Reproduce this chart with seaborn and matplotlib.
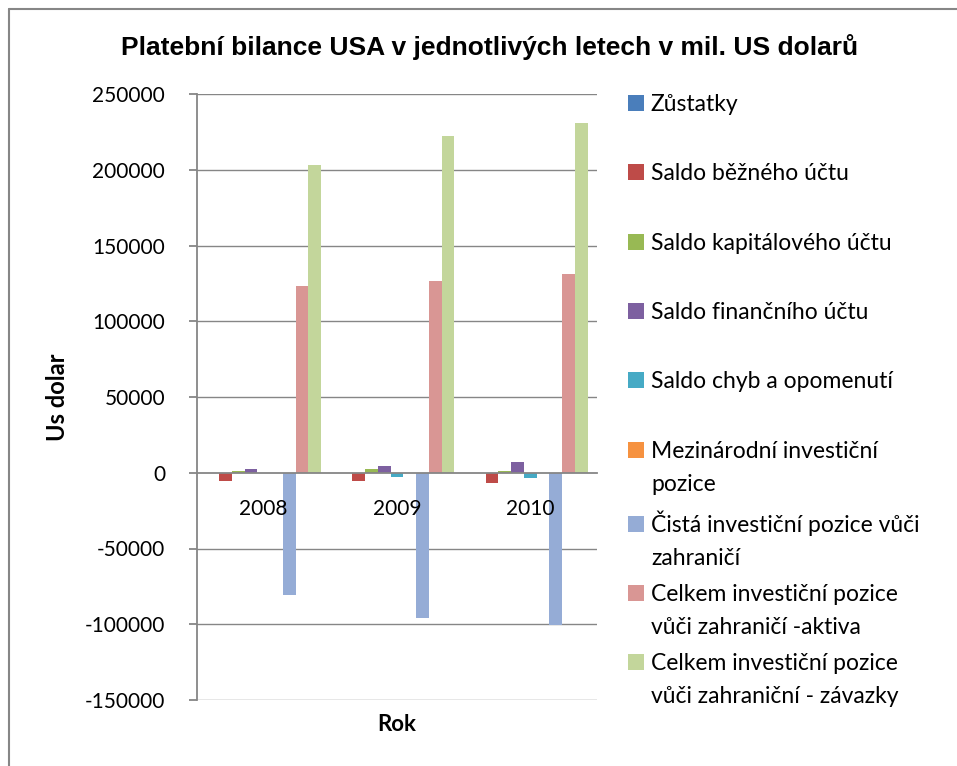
import numpy as np
import pandas as pd
import matplotlib
matplotlib.use('Agg')
import matplotlib.pyplot as plt
from matplotlib.lines import Line2D
import seaborn as sns

# data (mil. US dolaru)
years = ['2008', '2009', '2010']
series = ['Zůstatky', 'Saldo běžného účtu', 'Saldo kapitálového účtu',
          'Saldo finančního účtu', 'Saldo chyb a opomenutí',
          'Mezinárodní investiční\npozice',
          'Čistá investiční pozice vůči\nzahraničí',
          'Celkem investiční pozice\nvůči zahraničí -aktiva',
          'Celkem investiční pozice\nvůči zahraniční - závazky']
zustatky = [0, 0, 0]
saldo_bezneho = [-5300, -5300, -6600]
saldo_kapitaloveho = [1300, 2600, 1300]
saldo_financniho = [2600, 4600, 7300]
saldo_chyb = [0, -2600, -3300]
mezinarodni_pozice = [0, 0, 0]
cista_pozice = [-80500, -96000, -100700]
aktiva = [123000, 126300, 131000]
zavazky = [203000, 222400, 231000]

colors = ['#4a7ebb', '#be4b48', '#98b954', '#7d60a0', '#46aac5',
          '#f69240', '#95acd6', '#d99694', '#c3d69b']

values = [zustatky, saldo_bezneho, saldo_kapitaloveho, saldo_financniho,
          saldo_chyb, mezinarodni_pozice, cista_pozice, aktiva, zavazky]
rows = []
for name, vals in zip(series, values):
    for yr, v in zip(years, vals):
        rows.append({'Rok': yr, 'serie': name, 'hodnota': v})
df = pd.DataFrame(rows)

sns.set_style('white')
plt.rcParams['font.family'] = ['Lato', 'DejaVu Sans']
plt.rcParams['axes.unicode_minus'] = False
plt.rcParams['text.color'] = 'black'
plt.rcParams['xtick.color'] = 'black'
plt.rcParams['ytick.color'] = 'black'
plt.rcParams['axes.labelcolor'] = 'black'

fig = plt.figure(figsize=(9.57, 7.66), dpi=100)
ax = fig.add_axes([197 / 957, 1 - 700 / 766, 400 / 957, 606 / 766])

sns.barplot(data=df, x='Rok', y='hodnota', hue='serie', hue_order=series,
            order=years, palette=colors, saturation=1, width=0.86,
            linewidth=0, ax=ax)

handles, labels = ax.get_legend_handles_labels()
ax.get_legend().remove()

ax.set_ylim(-150000, 250000)
ax.set_yticks(np.arange(-150000, 250001, 50000))
ax.grid(False)
# gridlines behind the bars, axis + year labels drawn over them
for t in ax.get_yticks():
    if t != 0:
        ax.axhline(t, color='#868686', linewidth=1, zorder=0)
ax.set_axisbelow(False)

for s in ['top', 'right']:
    ax.spines[s].set_visible(False)
ax.spines['left'].set_color('#868686')
ax.spines['left'].set_linewidth(1.3)
ax.spines['bottom'].set_position(('data', 0))
ax.spines['bottom'].set_color('#868686')
ax.spines['bottom'].set_linewidth(1.3)

ax.tick_params(axis='y', length=6, width=1.3, color='#868686', pad=17,
               labelsize=15, labelcolor='black', left=True)
ax.tick_params(axis='x', length=0, pad=19, labelsize=15, labelcolor='black')

ax.set_xlabel('Rok', fontsize=16, fontweight='bold')
ax.xaxis.set_label_coords(0.5, -0.023)
ax.set_ylabel('Us dolar', fontsize=17, fontweight='bold')
ax.yaxis.set_label_coords(-0.32, 0.5)

fig.text(490 / 957, 1 - 47 / 766,
         'Platební bilance USA v jednotlivých letech v mil. US dolarů',
         ha='center', va='center', fontsize=19, fontweight='bold',
         family=['Liberation Sans', 'DejaVu Sans'])

# legend: Excel keeps equal spacing by first line, wrapped lines spill below
first_lines = [lab.split('\n')[0] for lab in series]
leg = fig.legend(handles, first_lines, loc='upper left',
                 bbox_to_anchor=(628 / 957, 1 - 94 / 766), frameon=False,
                 fontsize=16.5, handlelength=0.7, handleheight=0.7,
                 handletextpad=0.3, borderpad=0, borderaxespad=0,
                 labelspacing=2.11)

fig.canvas.draw()
renderer = fig.canvas.get_renderer()
inv = fig.transFigure.inverted()
for txt, lab in zip(leg.get_texts(), series):
    parts = lab.split('\n')
    if len(parts) > 1:
        bb = txt.get_window_extent(renderer)
        x, y = inv.transform((bb.x0, bb.y0 - 33))
        fig.text(x, y, parts[1], ha='left', va='bottom', fontsize=16.5)

# chart frame (left and top edges visible in the reference)
fx = 9 / 957
fy = 1 - 9 / 766
fig.add_artist(Line2D([fx, fx], [0, fy], transform=fig.transFigure,
                      color='#868686', linewidth=1.5))
fig.add_artist(Line2D([fx, 1], [fy, fy], transform=fig.transFigure,
                      color='#868686', linewidth=1.5))

fig.savefig('out.png', dpi=100)
